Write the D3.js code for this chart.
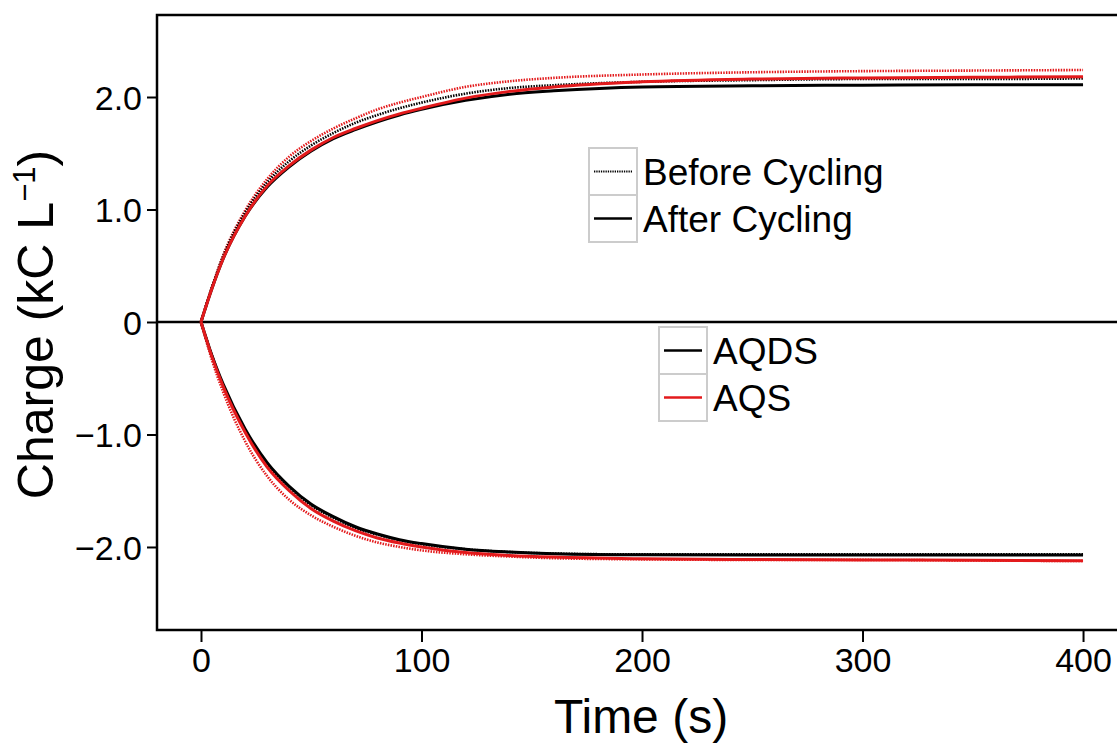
<!DOCTYPE html>
<html>
<head>
<meta charset="utf-8">
<script src="https://cdn.jsdelivr.net/npm/d3@7"></script>
<style>
  body { margin: 0; background: #fff; }
  svg { display: block; font-family: "Liberation Sans", Arial, sans-serif; }
</style>
</head>
<body>
<script>
// time points (s)
const times = [0, 5, 10, 20, 30, 40, 50, 60, 70, 80, 90, 100, 120, 140, 160, 200, 250, 300, 350, 400];

// charging (positive) curves, kC/L
const aqdsBeforeCharge = [0, 0.31, 0.58, 0.97, 1.24, 1.43, 1.57, 1.68, 1.77, 1.84, 1.90, 1.95, 2.03, 2.08, 2.105, 2.135, 2.15, 2.16, 2.16, 2.165];
const aqdsAfterCharge  = [0, 0.30, 0.56, 0.94, 1.20, 1.38, 1.52, 1.63, 1.71, 1.78, 1.84, 1.89, 1.97, 2.025, 2.055, 2.09, 2.10, 2.105, 2.11, 2.11];
const aqsBeforeCharge  = [0, 0.31, 0.59, 0.99, 1.27, 1.47, 1.61, 1.72, 1.81, 1.89, 1.95, 2.00, 2.09, 2.14, 2.17, 2.20, 2.22, 2.23, 2.235, 2.24];
const aqsAfterCharge   = [0, 0.30, 0.56, 0.94, 1.21, 1.39, 1.53, 1.64, 1.72, 1.79, 1.85, 1.90, 1.99, 2.05, 2.09, 2.135, 2.16, 2.17, 2.175, 2.18];

// discharging (negative) curves, kC/L
const aqdsBeforeDischarge = [0, -0.30, -0.56, -0.96, -1.26, -1.47, -1.63, -1.74, -1.83, -1.89, -1.94, -1.975, -2.02, -2.045, -2.058, -2.066, -2.066, -2.066, -2.066, -2.066];
const aqdsAfterDischarge  = [0, -0.30, -0.55, -0.95, -1.25, -1.46, -1.62, -1.73, -1.82, -1.885, -1.935, -1.97, -2.02, -2.045, -2.06, -2.07, -2.072, -2.072, -2.072, -2.072];
const aqsBeforeDischarge  = [0, -0.34, -0.62, -1.06, -1.37, -1.58, -1.72, -1.82, -1.90, -1.96, -2.00, -2.03, -2.065, -2.085, -2.10, -2.11, -2.115, -2.115, -2.12, -2.125];
const aqsAfterDischarge   = [0, -0.31, -0.57, -0.98, -1.29, -1.50, -1.66, -1.77, -1.855, -1.92, -1.965, -2.00, -2.05, -2.075, -2.09, -2.105, -2.112, -2.115, -2.118, -2.122];

// axis ticks
const xTicks = [0, 100, 200, 300, 400];
const yTicks = [2, 1, 0, -1, -2];
const yTickLabels = ["2.0", "1.0", "0", "\u22121.0", "\u22122.0"];

const legendCycling = ["Before Cycling", "After Cycling"];
const legendCompound = ["AQDS", "AQS"];

const chart_width = 1117, chart_height = 743;
const plotLeft = 157, plotTop = 15, plotBottom = 630, plotRight = 1117;
const red = "#e31a1c";
const dotted = "1.5,1.2";

const x = d3.scaleLinear().domain([-19.95, 415.4]).range([plotLeft, plotRight]);
const y = d3.scaleLinear().domain([-2.738, 2.729]).range([plotBottom, plotTop]);

const svg = d3.select("body").append("svg")
  .attr("width", chart_width)
  .attr("height", chart_height);

// series list, drawn dotted first then solid
const series = [
  { v: aqsBeforeCharge, color: red, dash: dotted },
  { v: aqdsBeforeCharge, color: "#000", dash: dotted },
  { v: aqsBeforeDischarge, color: red, dash: dotted },
  { v: aqdsBeforeDischarge, color: "#000", dash: dotted },
  { v: aqdsAfterCharge, color: "#000", dash: null },
  { v: aqsAfterCharge, color: red, dash: null },
  { v: aqdsAfterDischarge, color: "#000", dash: null },
  { v: aqsAfterDischarge, color: red, dash: null }
];

const line = d3.line()
  .x((d, i) => x(times[i]))
  .y(d => y(d))
  .curve(d3.curveMonotoneX);

// zero line
svg.append("line")
  .attr("x1", plotLeft).attr("x2", plotRight)
  .attr("y1", y(0)).attr("y2", y(0))
  .attr("stroke", "#000").attr("stroke-width", 2.5);

series.forEach(s => {
  svg.append("path")
    .attr("d", line(s.v))
    .attr("fill", "none")
    .attr("stroke", s.color)
    .attr("stroke-width", s.dash ? 2.6 : 3)
    .attr("stroke-dasharray", s.dash);
});

// axes
const xAxis = svg.append("g")
  .attr("transform", "translate(0," + plotBottom + ")")
  .call(d3.axisBottom(x).tickValues(xTicks).tickSize(12).tickPadding(6));
const yAxis = svg.append("g")
  .attr("transform", "translate(" + plotLeft + ",0)")
  .call(d3.axisLeft(y).tickValues(yTicks).tickSize(10).tickPadding(5)
    .tickFormat((d, i) => yTickLabels[i]));

[xAxis, yAxis].forEach(g => {
  g.select(".domain").remove();
  g.selectAll(".tick line").attr("stroke", "#000").attr("stroke-width", 2);
  g.selectAll(".tick text")
    .attr("fill", "#000")
    .style("font-size", "34px")
    .style("font-family", "Liberation Sans, Arial, sans-serif");
});
yAxis.selectAll(".tick text").attr("dy", "0.36em");

// frame: left, bottom, top
svg.append("path")
  .attr("d", "M" + plotRight + "," + plotTop + "H" + plotLeft + "V" + plotBottom + "H" + plotRight)
  .attr("fill", "none")
  .attr("stroke", "#000")
  .attr("stroke-width", 2.5);

// axis titles
svg.append("text")
  .attr("x", x(200) - 1).attr("y", 733)
  .attr("text-anchor", "middle")
  .style("font-size", "48px")
  .text("Time (s)");

const yt = svg.append("text")
  .attr("transform", "translate(53," + ((plotTop + plotBottom) / 2 + 2) + ") rotate(-90)")
  .attr("text-anchor", "middle")
  .style("font-size", "50px");
yt.append("tspan").text("Charge (kC L");
yt.append("tspan").attr("dy", -18).style("font-size", "31px").text("\u22121");
yt.append("tspan").attr("dy", 18).text(")");

// legends
function legend(x0, y0, labels, styles) {
  const cw = 48, ch = 47;
  const g = svg.append("g").attr("transform", "translate(" + x0 + "," + y0 + ")");
  labels.forEach((lab, i) => {
    g.append("rect")
      .attr("x", 0).attr("y", i * ch)
      .attr("width", cw).attr("height", ch)
      .attr("fill", "#fff")
      .attr("stroke", "#cccccc").attr("stroke-width", 2);
    g.append("line")
      .attr("x1", 5).attr("x2", cw - 5)
      .attr("y1", i * ch + ch / 2).attr("y2", i * ch + ch / 2)
      .attr("stroke", styles[i].color)
      .attr("stroke-width", styles[i].dash ? 1.8 : 2.5)
      .attr("stroke-dasharray", styles[i].dash ? "1.3,1" : null);
    g.append("text")
      .attr("x", cw + 6).attr("y", i * ch + ch / 2 + 13)
      .style("font-size", "37px")
      .text(lab);
  });
}
legend(589, 148, legendCycling, [{ color: "#000", dash: true }, { color: "#000", dash: false }]);
legend(659, 327, legendCompound, [{ color: "#000", dash: false }, { color: red, dash: false }]);
</script>
</body>
</html>
